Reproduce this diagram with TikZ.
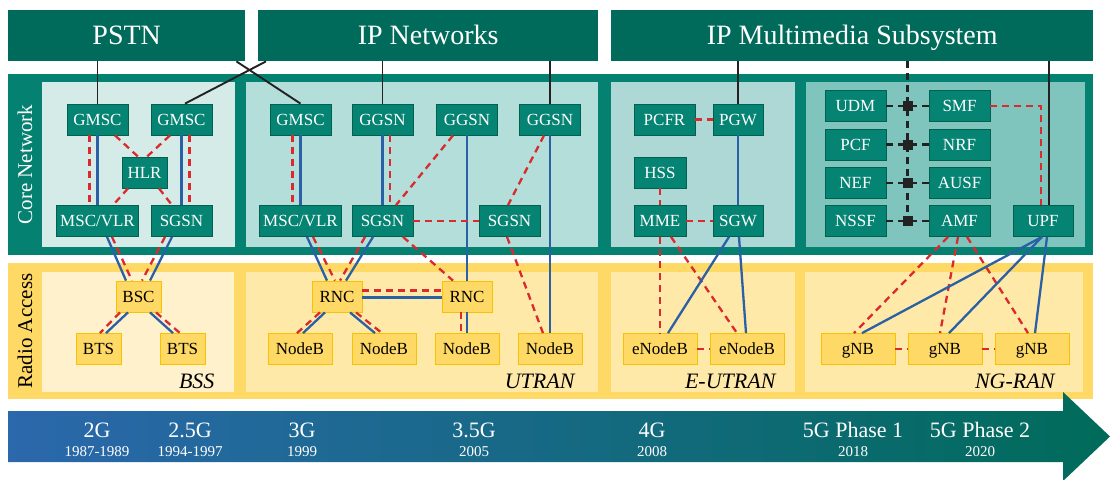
\documentclass[tikz,border=0pt]{standalone}
\usepackage{fontspec}
\setmainfont{Liberation Serif}
\usetikzlibrary{positioning}
\definecolor{hdrgreen}{HTML}{006B5A}
\definecolor{bandgreen}{HTML}{048171}
\definecolor{nodegreen}{HTML}{058373}
\definecolor{nodeedge}{HTML}{02604F}
\definecolor{panelA}{HTML}{D5EBE8}
\definecolor{panelB}{HTML}{B3DEDA}
\definecolor{panelC}{HTML}{ADD8D6}
\definecolor{panelD}{HTML}{7FC5BD}
\definecolor{ranouter}{HTML}{FFD966}
\definecolor{ranpanelA}{HTML}{FFF1CB}
\definecolor{ranpanel}{HTML}{FFE9A8}
\definecolor{ranfill}{HTML}{FFD966}
\definecolor{ranedge}{HTML}{F8C200}
\definecolor{ctrlred}{HTML}{DA2A2E}
\definecolor{userblue}{HTML}{2A61A6}
\definecolor{linkblack}{HTML}{222222}
\definecolor{tlblue}{HTML}{2B68AC}
\definecolor{tlgreen}{HTML}{006B5A}

\begin{document}
\begin{tikzpicture}
  [x=1pt, y=-1pt,
  hdr box/.style={fill=hdrgreen, text=white, font=\fontsize{28}{30}\selectfont,
    minimum height=51pt, inner sep=0pt, text height=18.5pt, text depth=0pt, anchor=north west},
  core node/.style={fill=nodegreen, draw=nodeedge, line width=0.8pt, text=white,
    font=\fontsize{17}{18}\selectfont, minimum width=61pt, minimum height=31pt,
    inner sep=0pt, text height=11.3pt, text depth=0pt},
  ran node/.style={core node, fill=ranfill, draw=ranedge, text=black},
  side label/.style={rotate=90, font=\fontsize{21}{22}\selectfont, text height=14pt, text depth=0pt},
  ran label/.style={anchor=base east, font=\fontsize{22}{24}\selectfont\itshape},
  link/.style={draw=linkblack, line width=1.9pt},
  user line/.style={draw=userblue, line width=2.3pt},
  ctrl line/.style={draw=ctrlred, line width=2.3pt, dash pattern=on 7pt off 5pt},
  bus line/.style={draw=linkblack, line width=2.2pt, dash pattern=on 7pt off 5pt},
  junction/.style={fill=linkblack, minimum size=10pt, inner sep=0pt},
  gen label/.style={text=white, anchor=base, font=\fontsize{22}{23}\selectfont},
  year label/.style={text=white, anchor=base, font=\fontsize{15}{16}\selectfont},
  ]
  \useasboundingbox[fill=white] (0,0) rectangle (1110,479);

  % headers
  \node[hdr box, minimum width=237pt] (pstn) at (8,10) {PSTN};
  \node[hdr box, minimum width=340pt] (ipnet) at (258,10) {IP Networks};
  \node[hdr box, minimum width=482pt] (ims) at (611,10) {IP Multimedia Subsystem};

  % core network band
  \fill[bandgreen] (8,74) rectangle (1093,255);
  \fill[panelA] (42,82) rectangle (235,247);
  \fill[panelB] (246,82) rectangle (598,247);
  \fill[panelC] (611,82) rectangle (795,247);
  \fill[panelD] (806,82) rectangle (1085,247);
  \node[side label, text=white] (corelbl) at (25,164.5) {Core Network};

  % radio access band
  \fill[ranouter] (8,263) rectangle (1093,399);
  \fill[ranpanelA] (42,272) rectangle (234,392);
  \fill[ranpanel] (246,272) rectangle (598,392);
  \fill[ranpanel] (611,272) rectangle (795,392);
  \fill[ranpanel] (805,272) rectangle (1083,392);
  \node[side label] (ranlbl) at (25,331) {Radio Access};

  \node[ran label] (bsslbl) at (218,388) {BSS};
  \node[ran label] (utranlbl) at (578,388) {UTRAN};
  \node[ran label] (eutranlbl) at (779,388) {E-UTRAN};
  \node[ran label] (ngranlbl) at (1058,388) {NG-RAN};

  % 2G core
  \node[core node] (gmscA) at (97.5,119.5) {GMSC};
  \node[core node] (gmscB) at (181.5,119.5) {GMSC};
  \node[core node, minimum width=45pt] (hlr) at (144.5,172.5) {HLR};
  \node[core node, minimum width=82pt] (mscA) at (97.5,221) {MSC/VLR};
  \node[core node] (sgsnA) at (181.5,221) {SGSN};
  % 3G core
  \node[core node] (gmscC) at (300.5,119.5) {GMSC};
  \node[core node] (ggsnA) at (382.5,119.5) {GGSN};
  \node[core node] (ggsnB) at (467,119.5) {GGSN};
  \node[core node] (ggsnC) at (550,119.5) {GGSN};
  \node[core node, minimum width=82pt] (mscB) at (300.5,221) {MSC/VLR};
  \node[core node] (sgsnB) at (382.5,221) {SGSN};
  \node[core node] (sgsnC) at (509.5,221) {SGSN};
  % 4G core
  \node[core node] (pcfr) at (664.5,119.5) {PCFR};
  \node[core node, minimum width=50pt] (pgw) at (738,119.5) {PGW};
  \node[core node, minimum width=52pt] (hss) at (660,172.5) {HSS};
  \node[core node, minimum width=52pt] (mme) at (660,221) {MME};
  \node[core node, minimum width=50pt] (sgw) at (738,221) {SGW};
  % 5G core
  \node[core node] (udm) at (855.5,106) {UDM};
  \node[core node] (smf) at (959.5,106) {SMF};
  \node[core node] (pcf) at (855.5,144.5) {PCF};
  \node[core node] (nrf) at (959.5,144.5) {NRF};
  \node[core node] (nef) at (855.5,183) {NEF};
  \node[core node] (ausf) at (959.5,183) {AUSF};
  \node[core node] (nssf) at (855.5,221) {NSSF};
  \node[core node] (amf) at (959.5,221) {AMF};
  \node[core node, minimum width=60pt] (upf) at (1043,221) {UPF};

  % radio nodes
  \node[ran node, minimum width=45pt] (bsc) at (138.5,296.5) {BSC};
  \node[ran node, minimum width=45pt] (btsA) at (98.5,349) {BTS};
  \node[ran node, minimum width=45pt] (btsB) at (182.5,349) {BTS};
  \node[ran node, minimum width=50pt] (rncA) at (337,296.5) {RNC};
  \node[ran node, minimum width=50pt] (rncB) at (467,296.5) {RNC};
  \node[ran node, minimum width=64pt] (nodebA) at (300,349) {NodeB};
  \node[ran node, minimum width=64pt] (nodebB) at (384,349) {NodeB};
  \node[ran node, minimum width=64pt] (nodebC) at (467,349) {NodeB};
  \node[ran node, minimum width=64pt] (nodebD) at (550,349) {NodeB};
  \node[ran node, minimum width=74pt] (enbA) at (660,349) {eNodeB};
  \node[ran node, minimum width=74pt] (enbB) at (747,349) {eNodeB};
  \node[ran node, minimum width=74pt] (gnbA) at (858,349) {gNB};
  \node[ran node, minimum width=74pt] (gnbB) at (945,349) {gNB};
  \node[ran node, minimum width=74pt] (gnbC) at (1032,349) {gNB};

  % links to the outside networks
  \draw[link] (gmscA.north |- pstn.south) -- (gmscA.north);
  \draw[link] ([xshift=-9pt]pstn.south east) -- (gmscC.north);
  \draw[link] ([xshift=8pt]ipnet.south west) -- ([xshift=3.5pt]gmscB.north);
  \draw[link] (ggsnA.north |- ipnet.south) -- (ggsnA.north);
  \draw[link] (ggsnC.north |- ipnet.south) -- (ggsnC.north);
  \draw[link] (pgw.north |- ims.south) -- (pgw.north);
  \coordinate (upftop) at ([xshift=6pt]upf.north);
  \draw[link] (upftop |- ims.south) -- (upftop);

  % 2G
  \draw[user line] (gmscA.south) -- (mscA.north);
  \draw[ctrl line] ([xshift=-8pt]gmscA.south) -- ([xshift=-8pt]mscA.north);
  \draw[user line] (gmscB.south) -- (sgsnA.north);
  \draw[ctrl line] ([xshift=8pt]gmscB.south) -- ([xshift=8pt]sgsnA.north);
  \draw[ctrl line] ([xshift=17.5pt]gmscA.south) -- ([xshift=-6.5pt]hlr.north);
  \draw[ctrl line] ([xshift=-11.5pt]gmscB.south) -- ([xshift=2.5pt]hlr.north);
  \draw[ctrl line] ([xshift=-16.5pt]hlr.south) -- ([xshift=15.5pt]mscA.north);
  \draw[ctrl line] ([xshift=14.5pt]hlr.south) -- ([xshift=-9.5pt]sgsnA.north);
  \draw[user line] ([xshift=9.5pt]mscA.south) -- ([xshift=-12.5pt]bsc.north);
  \draw[ctrl line] ([xshift=14.5pt]mscA.south) -- ([xshift=-6.5pt]bsc.north);
  \draw[ctrl line] ([xshift=-16.5pt]sgsnA.south) -- ([xshift=3.5pt]bsc.north);
  \draw[user line] ([xshift=-9.5pt]sgsnA.south) -- ([xshift=11.5pt]bsc.north);
  \draw[ctrl line] ([xshift=-18.5pt]bsc.south) -- ([xshift=1.5pt]btsA.north);
  \draw[user line] ([xshift=-10.5pt]bsc.south) -- ([xshift=7.5pt]btsA.north);
  \draw[user line] ([xshift=11.5pt]bsc.south) -- ([xshift=-9.5pt]btsB.north);
  \draw[ctrl line] ([xshift=17.5pt]bsc.south) -- ([xshift=-2.5pt]btsB.north);

  % 3G
  \draw[user line] (gmscC.south) -- (mscB.north);
  \draw[ctrl line] ([xshift=-8pt]gmscC.south) -- ([xshift=-8pt]mscB.north);
  \draw[user line] (ggsnA.south) -- (sgsnB.north);
  \draw[ctrl line] ([xshift=7.5pt]ggsnA.south) -- ([xshift=7.5pt]sgsnB.north);
  \draw[ctrl line] ([xshift=-14pt]ggsnB.south) -- ([xshift=13.5pt]sgsnB.north);
  \draw[user line] (ggsnB.south) -- (rncB.north);
  \draw[ctrl line] ([xshift=-6pt]ggsnC.south) -- ([xshift=-1.5pt]sgsnC.north);
  \draw[user line] (ggsnC.south) -- (nodebD.north);
  \draw[ctrl line] (sgsnB.east) -- (sgsnC.west);
  \draw[ctrl line] ([xshift=-2.5pt]sgsnC.south) -- ([xshift=-7pt]nodebD.north);
  \draw[ctrl line] ([xshift=20.5pt]sgsnB.south) -- ([xshift=-14pt]rncB.north);
  \draw[user line] ([xshift=6.5pt]mscB.south) -- ([xshift=-10pt]rncA.north);
  \draw[ctrl line] ([xshift=12.5pt]mscB.south) -- ([xshift=-2pt]rncA.north);
  \draw[ctrl line] ([xshift=-17.5pt]sgsnB.south) -- ([xshift=3pt]rncA.north);
  \draw[user line] ([xshift=-9.5pt]sgsnB.south) -- ([xshift=9pt]rncA.north);
  \draw[user line] ([yshift=-1pt]rncA.east) -- ([yshift=-1pt]rncB.west);
  \draw[ctrl line] ([yshift=6pt]rncA.east) -- ([yshift=6pt]rncB.west);
  \draw[ctrl line] ([xshift=-17pt]rncA.south) -- ([xshift=-3pt]nodebA.north);
  \draw[user line] ([xshift=-12pt]rncA.south) -- ([xshift=3pt]nodebA.north);
  \draw[user line] ([xshift=13pt]rncA.south) -- ([xshift=-9pt]nodebB.north);
  \draw[ctrl line] ([xshift=19pt]rncA.south) -- ([xshift=-2pt]nodebB.north);
  \draw[user line] (rncB.south) -- (nodebC.north);
  \draw[ctrl line] ([xshift=-6pt]rncB.south) -- ([xshift=-6pt]nodebC.north);

  % 4G
  \draw[ctrl line] (pcfr.east) -- (pgw.west);
  \draw[user line] (pgw.south) -- (sgw.north);
  \draw[ctrl line] (hss.south) -- (mme.north);
  \draw[ctrl line] (mme.east) -- (sgw.west);
  \draw[ctrl line] (mme.south) -- (enbA.north);
  \draw[ctrl line] ([xshift=11pt]mme.south) -- ([xshift=-10pt]enbB.north);
  \draw[user line] ([xshift=-9pt]sgw.south) -- ([xshift=8pt]enbA.north);
  \draw[user line] ([xshift=1pt]sgw.south) -- ([xshift=-1pt]enbB.north);
  \draw[ctrl line] (enbA.east) -- (enbB.west);

  % 5G
  \path (udm.east) -- (smf.west) coordinate[pos=0.5] (busA);
  \path (pcf.east) -- (nrf.west) coordinate[pos=0.5] (busB);
  \path (nef.east) -- (ausf.west) coordinate[pos=0.5] (busC);
  \path (nssf.east) -- (amf.west) coordinate[pos=0.5] (busD);
  \draw[bus line] (busA |- ims.south) -- (busD);
  \draw[bus line] (udm.east) -- (smf.west);
  \draw[bus line] (pcf.east) -- (nrf.west);
  \draw[bus line] (nef.east) -- (ausf.west);
  \draw[bus line] (nssf.east) -- (amf.west);
  \node[junction] (jA) at (busA) {};
  \node[junction] (jB) at (busB) {};
  \node[junction] (jC) at (busC) {};
  \node[junction] (jD) at (busD) {};
  \draw[ctrl line] (smf.east) -| ([xshift=-2pt]upf.north);
  \draw[ctrl line] ([xshift=-11.5pt]amf.south) -- ([xshift=-4pt]gnbA.north);
  \draw[ctrl line] ([xshift=-1.5pt]amf.south) -- ([xshift=-5pt]gnbB.north);
  \draw[ctrl line] ([xshift=7.5pt]amf.south) -- ([xshift=-4pt]gnbC.north);
  \draw[user line] ([xshift=-1pt]upf.south) -- ([xshift=4pt]gnbA.north);
  \draw[user line] ([xshift=-1pt]upf.south) -- ([xshift=4pt]gnbB.north);
  \draw[user line] ([xshift=4pt]upf.south) -- ([xshift=3pt]gnbC.north);
  \draw[ctrl line] (gnbA.east) -- (gnbB.west);
  \draw[ctrl line] (gnbB.east) -- (gnbC.west);

  % timeline
  \shade[left color=tlblue, right color=tlgreen]
    (8,411) -- (1063,411) -- (1063,392) -- (1110,436.5) -- (1063,481)
    -- (1063,462) -- (8,462) -- cycle;
  \node[gen label] (genA) at (97,437) {2G};
  \node[year label] (yrA) at (97,456) {1987-1989};
  \node[gen label] (genB) at (190,437) {2.5G};
  \node[year label] (yrB) at (190,456) {1994-1997};
  \node[gen label] (genC) at (302,437) {3G};
  \node[year label] (yrC) at (302,456) {1999};
  \node[gen label] (genD) at (474,437) {3.5G};
  \node[year label] (yrD) at (474,456) {2005};
  \node[gen label] (genE) at (652,437) {4G};
  \node[year label] (yrE) at (652,456) {2008};
  \node[gen label] (genF) at (853,437) {5G Phase 1};
  \node[year label] (yrF) at (853,456) {2018};
  \node[gen label] (genG) at (980,437) {5G Phase 2};
  \node[year label] (yrG) at (980,456) {2020};
\end{tikzpicture}
\end{document}
